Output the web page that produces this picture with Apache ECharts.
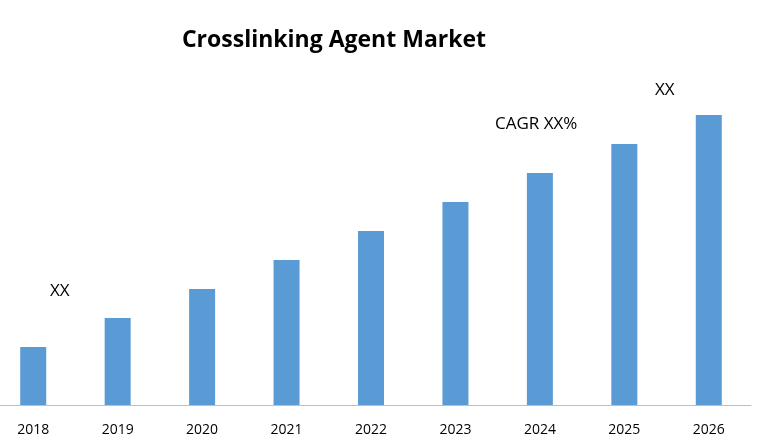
<!DOCTYPE html>
<html>
<head>
<meta charset="utf-8">
<script src="https://cdn.jsdelivr.net/npm/echarts@6/dist/echarts.min.js"></script>
<style>
  body{margin:0;background:#fff;overflow:hidden;}
  #chart{width:789px;height:440px;margin-left:-9px;}
</style>
</head>
<body>
<div id="chart"></div>
<script>
// 年份
var years=['2018','2019','2020','2021','2022','2023','2024','2025','2026'];
// 柱子数值
var marketValues=[2,3,4,5,6,7,8,9,10];
// 标注文字
var notes=['XX','CAGR XX%','XX'];

var chart=echarts.init(document.getElementById('chart'));
chart.setOption({
  animation:false,
  title:{
    text:'Crosslinking Agent Market',
    left:338,
    top:24,
    textAlign:'center',
    textStyle:{fontFamily:'Open Sans',fontSize:23,fontWeight:'bold',color:'#000'}
  },
  grid:{left:0,right:29,top:57,bottom:35},
  xAxis:{
    type:'category',
    data:years,
    axisLine:{lineStyle:{color:'#bfbfbf'}},
    axisTick:{show:false},
    axisLabel:{color:'#000',fontSize:14,fontFamily:'Open Sans',margin:18}
  },
  yAxis:{
    type:'value',
    min:0,
    max:12,
    show:false
  },
  series:[{
    type:'bar',
    data:marketValues,
    barWidth:26,
    itemStyle:{color:'#5b9bd5'}
  }],
  graphic:[
    {type:'text',left:59,top:283,style:{text:notes[0],fontSize:17,fontFamily:'Open Sans',fill:'#000'}},
    {type:'text',left:504,top:116,style:{text:notes[1],fontSize:17,fontFamily:'Open Sans',fill:'#000'}},
    {type:'text',left:664,top:82,style:{text:notes[2],fontSize:17,fontFamily:'Open Sans',fill:'#000'}}
  ]
});
</script>
</body>
</html>
